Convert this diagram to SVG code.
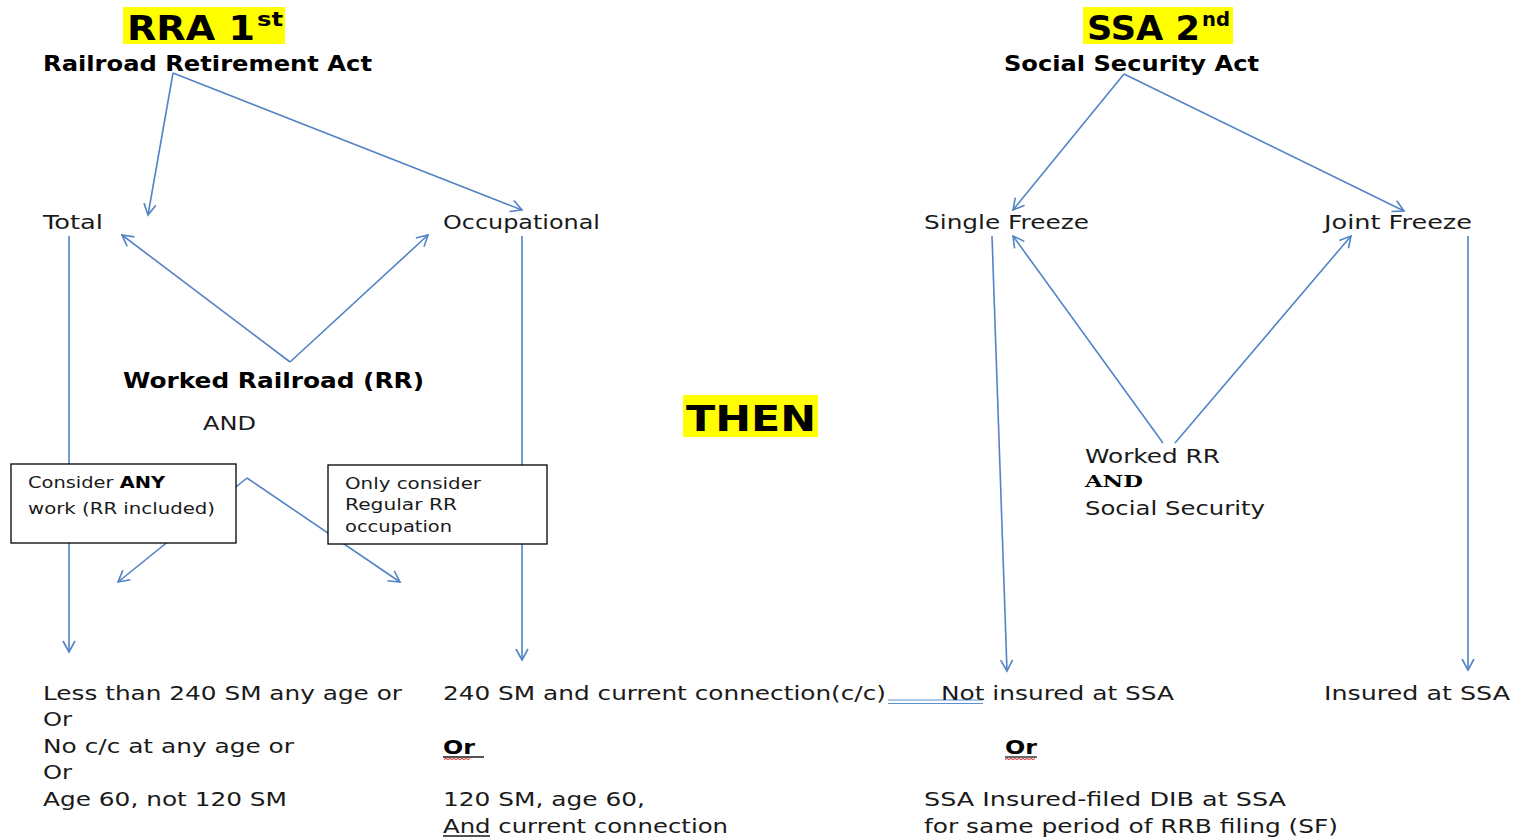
<svg xmlns="http://www.w3.org/2000/svg" width="1527" height="839" viewBox="0 0 1527 839">
<style>
text{font-family:"DejaVu Sans","Liberation Sans",sans-serif;fill:#1a1a1a;font-size:20px}
.b{font-weight:bold;fill:#000}
.box{fill:#fff;stroke:#000;stroke-width:1.3}
.bx{font-size:16px}
.c{fill:none;stroke:#5283c4;stroke-width:1.6;marker-end:url(#ah)}
.hl{fill:#ffff00}
.ul{stroke:#1a1a1a;stroke-width:1.3}
</style>
<defs>
<marker id="ah" markerUnits="userSpaceOnUse" markerWidth="16" markerHeight="16" refX="12" refY="7" orient="auto">
<path d="M1,1 L12,7 L1,13" fill="none" stroke="#5283c4" stroke-width="1.6"/>
</marker>
</defs>
<rect width="1527" height="839" fill="#fff"/>

<g id="connectors">
<path class="c" d="M173,73 L148,215"/>
<path class="c" d="M173,73 L522,210"/>
<path class="c" d="M69,236 L69,652"/>
<path class="c" d="M522,236 L522,660"/>
<path class="c" d="M290,362 L122,235"/>
<path class="c" d="M290,362 L428,235"/>
<path class="c" d="M247,478 L118,582"/>
<path class="c" d="M247,478 L400,582"/>
<path class="c" d="M1124,74 L1013,210"/>
<path class="c" d="M1124,74 L1404,211"/>
<path class="c" d="M992,236 L1007,671"/>
<path class="c" d="M1468,236 L1468,670"/>
<path class="c" d="M1163,443 L1013,236"/>
<path class="c" d="M1175,443 L1351,236"/>
<line x1="888" y1="700" x2="983" y2="700" stroke="#5b8fd0" stroke-width="1.2"/>
<line x1="888" y1="703.5" x2="983" y2="703.5" stroke="#5b8fd0" stroke-width="1.2"/>
</g>

<g id="rra-title">
<rect class="hl" x="123" y="7" width="162" height="37"/>
<text class="b" x="127" y="40" textLength="128" lengthAdjust="spacingAndGlyphs" style="font-size:34px">RRA 1</text>
<text class="b" x="257" y="26" style="font-size:20px" textLength="26" lengthAdjust="spacingAndGlyphs">st</text>
<text class="b" x="43" y="71" style="font-size:21px" textLength="329" lengthAdjust="spacingAndGlyphs">Railroad Retirement Act</text>
</g>

<g id="ssa-title">
<rect class="hl" x="1083" y="7" width="150" height="37"/>
<text class="b" x="1087" y="40" style="font-size:34px" textLength="113" lengthAdjust="spacingAndGlyphs">SSA 2</text>
<text class="b" x="1202" y="26" style="font-size:20px" textLength="28" lengthAdjust="spacingAndGlyphs">nd</text>
<text class="b" x="1004" y="71" style="font-size:21px" textLength="255" lengthAdjust="spacingAndGlyphs">Social Security Act</text>
</g>

<g id="total"><text x="43" y="229" textLength="60" lengthAdjust="spacingAndGlyphs">Total</text></g>
<g id="occupational"><text x="443" y="229" textLength="157" lengthAdjust="spacingAndGlyphs">Occupational</text></g>
<g id="single-freeze"><text x="924" y="229" textLength="165" lengthAdjust="spacingAndGlyphs">Single Freeze</text></g>
<g id="joint-freeze"><text x="1324" y="229" textLength="148" lengthAdjust="spacingAndGlyphs">Joint Freeze</text></g>

<g id="worked-railroad">
<text class="b" x="123" y="388" style="font-size:21px" textLength="301" lengthAdjust="spacingAndGlyphs">Worked Railroad (RR)</text>
<text x="203" y="430" textLength="53" lengthAdjust="spacingAndGlyphs">AND</text>
</g>

<g id="then">
<rect class="hl" x="683" y="395" width="135" height="42"/>
<text class="b" x="686" y="431" style="font-size:36px" textLength="130" lengthAdjust="spacingAndGlyphs">THEN</text>
</g>

<g id="box-any">
<rect class="box" x="11" y="464" width="225" height="79"/>
<text class="bx" x="28" y="488" textLength="137" lengthAdjust="spacingAndGlyphs">Consider <tspan class="b">ANY</tspan></text>
<text class="bx" x="28" y="514" textLength="187" lengthAdjust="spacingAndGlyphs">work (RR included)</text>
</g>

<g id="box-regular">
<rect class="box" x="328" y="465" width="219" height="79"/>
<text class="bx" x="345" y="489" textLength="136" lengthAdjust="spacingAndGlyphs">Only consider</text>
<text class="bx" x="345" y="510" textLength="112" lengthAdjust="spacingAndGlyphs">Regular RR</text>
<text class="bx" x="345" y="532" textLength="107" lengthAdjust="spacingAndGlyphs">occupation</text>
</g>

<g id="worked-rr-ss">
<text x="1085" y="463" textLength="135" lengthAdjust="spacingAndGlyphs">Worked RR</text>
<text x="1085" y="487" style="font-family:'DejaVu Serif','Liberation Serif',serif;font-size:17px;font-weight:bold;fill:#000" textLength="58" lengthAdjust="spacingAndGlyphs">AND</text>
<text x="1085" y="515" textLength="180" lengthAdjust="spacingAndGlyphs">Social Security</text>
</g>

<g id="total-result">
<text x="43" y="700" textLength="359" lengthAdjust="spacingAndGlyphs">Less than 240 SM any age or</text>
<text x="43" y="726" textLength="29" lengthAdjust="spacingAndGlyphs">Or</text>
<text x="43" y="753" textLength="251" lengthAdjust="spacingAndGlyphs">No c/c at any age or</text>
<text x="43" y="779" textLength="29" lengthAdjust="spacingAndGlyphs">Or</text>
<text x="43" y="806" textLength="244" lengthAdjust="spacingAndGlyphs">Age 60, not 120 SM</text>
</g>

<g id="occupational-result">
<text x="443" y="700" textLength="443" lengthAdjust="spacingAndGlyphs">240 SM and current connection(c/c)</text>
<text class="b" x="443" y="754" textLength="32" lengthAdjust="spacingAndGlyphs">Or</text>
<line class="ul" x1="443" y1="757" x2="484" y2="757"/>
<path d="M444,759.5 l2,-1 l2,1 l2,-1 l2,1 l2,-1 l2,1 l2,-1 l2,1 l2,-1 l2,1 l2,-1 l2,1 l2,-1" fill="none" stroke="#e02020" stroke-width="1"/>
<text x="443" y="806" textLength="202" lengthAdjust="spacingAndGlyphs">120 SM, age 60,</text>
<text x="443" y="833" textLength="285" lengthAdjust="spacingAndGlyphs">And current connection</text>
<line class="ul" x1="443" y1="836" x2="490" y2="836"/>
</g>

<g id="single-freeze-result">
<text x="941" y="700" textLength="233" lengthAdjust="spacingAndGlyphs">Not insured at SSA</text>
<text class="b" x="1005" y="754" textLength="32" lengthAdjust="spacingAndGlyphs">Or</text>
<line class="ul" x1="1005" y1="757" x2="1037" y2="757"/>
<path d="M1005,759.5 l2,-1 l2,1 l2,-1 l2,1 l2,-1 l2,1 l2,-1 l2,1 l2,-1 l2,1 l2,-1 l2,1 l2,-1 l2,1 l2,-1" fill="none" stroke="#e02020" stroke-width="1"/>
<text x="924" y="806" textLength="362" lengthAdjust="spacingAndGlyphs">SSA Insured-filed DIB at SSA</text>
<text x="924" y="833" textLength="414" lengthAdjust="spacingAndGlyphs">for same period of RRB filing (SF)</text>
</g>

<g id="joint-freeze-result">
<text x="1324" y="700" textLength="186" lengthAdjust="spacingAndGlyphs">Insured at SSA</text>
</g>
</svg>
